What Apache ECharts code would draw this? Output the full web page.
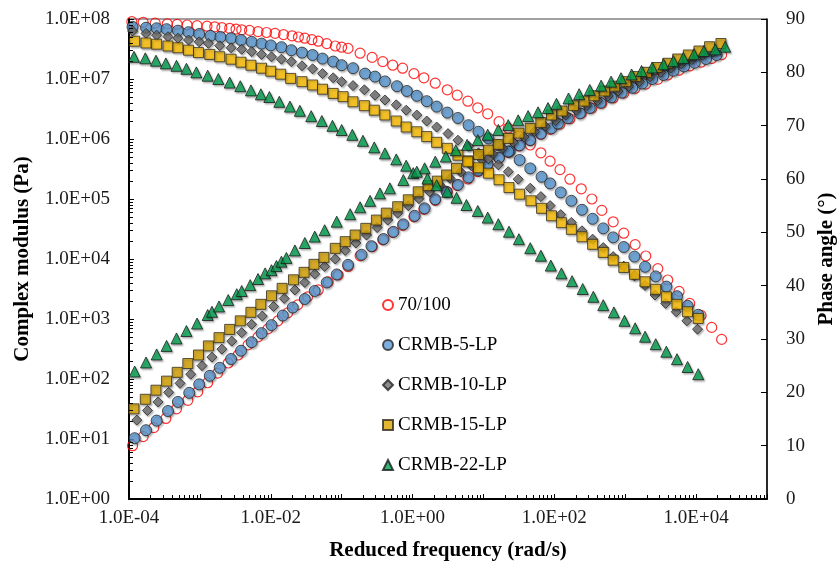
<!DOCTYPE html>
<html>
<head>
<meta charset="utf-8">
<script src="https://cdn.jsdelivr.net/npm/echarts@6/dist/echarts.min.js"></script>
<style>
html, body { margin: 0; padding: 0; background: #fff; }
#chart { width: 838px; height: 562px; }
</style>
</head>
<body>
<div id="chart"></div>
<script>
// values: frequency (rad/s) and complex modulus (Pa) kept as log10,
// phase angle in degrees
var names = ['70/100', 'CRMB-5-LP', 'CRMB-10-LP', 'CRMB-15-LP', 'CRMB-22-LP'];

var logF_70100_G = [-3.96,-3.80,-3.63,-3.46,-3.32,-3.18,-3.04,-2.90,-2.79,-2.69,-2.58,-2.49,-2.41,-2.30,-2.18,-2.06,-1.94,-1.82,-1.70,-1.61,-1.52,-1.42,-1.33,-1.21,-1.09,-1.00,-0.91,-0.74,-0.57,-0.42,-0.28,-0.14,0.02,0.16,0.32,0.49,0.63,0.78,0.92,1.06,1.22,1.35,1.50,1.66,1.81,1.94,2.08,2.22,2.38,2.53,2.67,2.83,2.98,3.14,3.29,3.46,3.60,3.76,3.91,4.07,4.22,4.36];
var logG_70100 = [7.955,7.945,7.93,7.92,7.91,7.90,7.89,7.88,7.87,7.855,7.845,7.83,7.82,7.81,7.79,7.775,7.76,7.74,7.72,7.70,7.68,7.655,7.63,7.59,7.55,7.53,7.51,7.43,7.36,7.29,7.23,7.18,7.09,7.02,6.93,6.82,6.73,6.63,6.52,6.42,6.29,6.18,6.05,5.90,5.77,5.63,5.49,5.33,5.17,5.00,4.81,4.62,4.43,4.24,4.05,3.84,3.65,3.46,3.26,3.06,2.86,2.66];
var logF_70100_P = [-3.95,-3.80,-3.65,-3.48,-3.33,-3.17,-3.03,-2.89,-2.75,-2.60,-2.46,-2.32,-2.18,-2.04,-1.90,-1.76,-1.62,-1.48,-1.33,-1.19,-1.05,-0.91,-0.74,-0.57,-0.42,-0.28,-0.14,0.02,0.16,0.32,0.49,0.63,0.78,0.92,1.06,1.22,1.35,1.50,1.66,1.81,1.94,2.08,2.22,2.38,2.53,2.67,2.83,2.98,3.14,3.29,3.46,3.60,3.76,3.91,4.07,4.22,4.36];
var phase_70100 = [10.0,11.7,13.4,15.1,16.9,18.5,20.1,21.8,23.6,25.5,27.0,28.9,30.4,31.9,33.4,34.9,36.4,37.9,39.2,40.7,42.0,43.6,45.6,47.3,48.6,50.0,51.3,52.9,54.3,56.0,57.6,58.8,60.0,61.4,62.6,63.9,65.0,66.2,67.2,68.4,69.3,70.3,71.3,72.3,73.3,74.2,75.2,76.1,77.0,77.8,78.7,79.5,80.4,81.2,81.9,82.6,83.3];

var logF_crmb5_G = [-3.95,-3.76,-3.61,-3.47,-3.31,-3.16,-3.01,-2.85,-2.71,-2.56,-2.42,-2.27,-2.13,-2.00,-1.85,-1.71,-1.56,-1.41,-1.27,-1.12,-1.00,-0.84,-0.67,-0.53,-0.39,-0.22,-0.08,0.06,0.20,0.34,0.49,0.64,0.79,0.93,1.07,1.21,1.35,1.51,1.66,1.82,1.94,2.09,2.24,2.39,2.54,2.69,2.83,2.98,3.13,3.28,3.43,3.58,3.73,3.88,4.03];
var logG_crmb5 = [7.87,7.855,7.845,7.83,7.805,7.78,7.75,7.72,7.70,7.68,7.65,7.62,7.59,7.56,7.53,7.48,7.44,7.40,7.34,7.29,7.23,7.18,7.09,7.04,6.96,6.88,6.80,6.72,6.63,6.54,6.44,6.35,6.23,6.12,6.01,5.90,5.79,5.65,5.51,5.37,5.26,5.11,4.97,4.82,4.67,4.51,4.36,4.20,4.04,3.87,3.71,3.54,3.38,3.22,3.07];
var logF_crmb5_P = [-3.92,-3.76,-3.61,-3.45,-3.31,-3.15,-3.01,-2.86,-2.72,-2.56,-2.42,-2.27,-2.13,-1.99,-1.83,-1.69,-1.52,-1.38,-1.21,-1.07,-0.91,-0.72,-0.58,-0.41,-0.27,-0.13,0.03,0.17,0.32,0.48,0.64,0.79,0.93,1.06,1.22,1.37,1.51,1.66,1.81,1.96,2.05,2.19,2.36,2.50,2.65,2.80,2.95,3.10,3.24,3.38,3.54,3.68,3.83,3.98,4.14,4.29];
var phase_crmb5 = [11.4,12.9,14.7,16.5,18.2,19.9,21.5,23.1,24.6,26.25,27.8,29.4,31.1,32.6,34.4,35.9,37.5,39.0,40.6,42.1,43.9,45.8,47.4,48.75,50.1,51.5,53.1,54.5,56.2,57.6,58.9,60.3,61.6,62.8,64.0,65.2,66.3,67.3,68.5,69.5,70.4,71.4,72.3,73.3,74.3,75.3,76.2,77.1,77.9,78.75,79.5,80.3,81.1,81.8,82.5,83.25];

var logF_crmb10_G = [-3.95,-3.76,-3.61,-3.45,-3.31,-3.16,-3.01,-2.88,-2.72,-2.56,-2.41,-2.27,-2.13,-1.99,-1.85,-1.71,-1.56,-1.41,-1.27,-1.12,-1.00,-0.84,-0.68,-0.53,-0.39,-0.23,-0.09,0.06,0.20,0.34,0.50,0.64,0.79,0.93,1.07,1.21,1.35,1.49,1.66,1.81,1.94,2.09,2.24,2.39,2.54,2.69,2.83,2.98,3.13,3.28,3.42,3.57,3.72,3.87,4.02];
var logG_crmb10 = [7.80,7.76,7.73,7.705,7.68,7.65,7.62,7.595,7.555,7.52,7.495,7.455,7.41,7.37,7.33,7.29,7.22,7.17,7.09,7.02,6.955,6.89,6.82,6.73,6.65,6.57,6.48,6.40,6.30,6.20,6.09,5.98,5.88,5.77,5.67,5.57,5.455,5.33,5.18,5.04,4.89,4.74,4.61,4.47,4.33,4.19,4.04,3.88,3.72,3.56,3.40,3.26,3.12,2.97,2.83];
var logF_crmb10_P = [-3.89,-3.74,-3.59,-3.44,-3.28,-3.13,-2.97,-2.83,-2.69,-2.55,-2.41,-2.27,-2.12,-1.96,-1.81,-1.66,-1.52,-1.38,-1.24,-1.09,-0.95,-0.80,-0.65,-0.50,-0.35,-0.21,-0.06,0.09,0.24,0.39,0.53,0.68,0.83,0.98,1.13,1.27,1.42,1.57,1.72,1.87,2.02,2.16,2.31,2.46,2.61,2.76,2.90,3.05,3.20,3.35,3.50,3.64,3.79,3.94,4.09,4.24];
var phase_crmb10 = [14.8,16.6,18.2,20.0,21.7,23.4,25.0,26.6,28.1,29.6,31.2,32.75,34.3,36.1,37.6,39.2,40.6,42.2,43.6,45.0,46.6,48.0,49.5,50.9,52.3,53.6,55.0,56.3,57.6,58.8,60.1,61.3,62.5,63.6,64.7,65.8,66.9,67.9,68.9,69.9,71.0,72.0,72.9,73.8,74.7,75.6,76.5,77.4,78.3,79.2,80.0,80.8,81.6,82.4,83.2,83.8];

var logF_crmb15_G = [-3.92,-3.76,-3.61,-3.45,-3.31,-3.16,-3.02,-2.86,-2.72,-2.56,-2.42,-2.28,-2.13,-2.00,-1.86,-1.72,-1.56,-1.41,-1.27,-1.12,-0.98,-0.84,-0.68,-0.54,-0.39,-0.23,-0.09,0.06,0.20,0.34,0.49,0.64,0.78,0.93,1.07,1.22,1.36,1.51,1.67,1.82,1.96,2.10,2.24,2.39,2.54,2.69,2.83,2.98,3.13,3.28,3.43,3.58,3.73,3.88,4.03];
var logG_crmb15 = [7.63,7.60,7.58,7.55,7.52,7.48,7.44,7.41,7.37,7.33,7.28,7.23,7.18,7.13,7.08,7.01,6.955,6.90,6.83,6.76,6.705,6.62,6.555,6.48,6.40,6.30,6.20,6.12,6.04,5.945,5.845,5.73,5.62,5.52,5.43,5.32,5.19,5.08,4.97,4.845,4.72,4.605,4.495,4.37,4.245,4.11,3.98,3.86,3.745,3.62,3.495,3.37,3.245,3.12,3.01];
var logF_crmb15_P = [-3.93,-3.77,-3.62,-3.47,-3.32,-3.17,-3.02,-2.88,-2.73,-2.58,-2.43,-2.28,-2.14,-1.99,-1.84,-1.68,-1.53,-1.39,-1.25,-1.09,-0.95,-0.81,-0.66,-0.51,-0.37,-0.21,-0.06,0.08,0.22,0.35,0.48,0.62,0.78,0.93,1.07,1.21,1.35,1.50,1.66,1.81,1.96,2.11,2.27,2.42,2.56,2.71,2.85,3.01,3.15,3.30,3.45,3.60,3.74,3.89,4.04,4.19,4.35];
var phase_crmb15 = [16.9,18.7,20.4,22.1,23.75,25.4,27.0,28.7,30.25,31.8,33.4,35.0,36.5,38.1,39.5,41.1,42.5,44.0,45.3,47.0,48.25,49.5,50.75,52.3,53.6,54.8,56.1,57.6,58.75,59.6,60.75,62.0,63.4,64.6,65.4,66.5,67.6,68.6,69.5,70.6,72.0,72.75,73.75,74.6,75.6,76.5,77.4,78.25,79.2,80.0,80.9,81.7,82.5,83.25,84.0,84.8,85.4];

var logF_crmb22_G = [-3.93,-3.77,-3.62,-3.48,-3.33,-3.19,-3.05,-2.89,-2.74,-2.58,-2.43,-2.28,-2.14,-2.02,-1.88,-1.73,-1.59,-1.43,-1.28,-1.13,-1.00,-0.85,-0.70,-0.54,-0.39,-0.23,-0.09,0.06,0.21,0.34,0.49,0.62,0.76,0.92,1.06,1.21,1.36,1.50,1.66,1.81,1.95,2.10,2.25,2.40,2.55,2.69,2.84,2.99,3.14,3.28,3.43,3.58,3.73,3.88,4.03];
var logG_crmb22 = [7.37,7.345,7.305,7.26,7.22,7.17,7.11,7.055,7.00,6.94,6.88,6.81,6.745,6.70,6.62,6.54,6.47,6.38,6.30,6.22,6.15,6.07,5.97,5.86,5.76,5.66,5.555,5.455,5.34,5.23,5.12,5.02,4.90,4.80,4.69,4.58,4.455,4.33,4.18,4.055,3.89,3.76,3.63,3.50,3.37,3.23,3.11,2.97,2.845,2.705,2.58,2.455,2.33,2.20,2.08];
var logF_crmb22_P = [-3.92,-3.76,-3.61,-3.47,-3.33,-3.19,-3.04,-2.89,-2.83,-2.73,-2.60,-2.48,-2.41,-2.29,-2.18,-2.08,-1.99,-1.92,-1.85,-1.78,-1.66,-1.52,-1.38,-1.24,-1.07,-0.88,-0.74,-0.60,-0.46,-0.32,-0.13,0.01,0.17,0.32,0.47,0.61,0.77,0.92,1.06,1.21,1.35,1.49,1.63,1.77,1.91,2.03,2.20,2.35,2.50,2.66,2.80,2.94,3.09,3.23,3.38,3.54,3.68,3.82,3.97,4.11,4.27,4.41];
var phase_crmb22 = [23.9,25.6,27.1,28.7,30.1,31.5,32.9,34.5,35.1,36.1,37.3,38.4,39.0,40.1,41.25,42.3,42.9,43.7,44.5,45.2,46.6,48.0,49.2,50.4,52.0,53.4,54.7,55.9,57.3,58.25,59.8,61.1,62.0,63.25,64.2,65.4,66.4,67.3,68.3,69.2,70.1,71.0,71.8,72.5,73.3,74.1,75.1,75.9,76.7,77.5,78.25,78.9,79.6,80.25,80.9,81.5,82.1,82.7,83.4,84.0,84.3,84.8];

var FONT = 'Liberation Serif';

function pow10Pairs(lx, ly) {
  return lx.map(function (x, i) { return [Math.pow(10, x), Math.pow(10, ly[i])]; });
}
function phasePairs(lx, ph) {
  return lx.map(function (x, i) { return [Math.pow(10, x), ph[i]]; });
}

function sciLabel(v) {
  var e = Math.round(Math.log10(v));
  var a = Math.abs(e);
  return '1.0E' + (e < 0 ? '-' : '+') + (a < 10 ? '0' : '') + a;
}

// log minor ticks (2..9 per decade)
var minorX = [], minorY = [];
for (var d = -4; d <= 4; d++) for (var m = 2; m <= 9; m++) minorX.push([m * Math.pow(10, d), 1]);
for (var d2 = 0; d2 <= 7; d2++) for (var m2 = 2; m2 <= 9; m2++) minorY.push([1e-4, m2 * Math.pow(10, d2)]);

var shadow = { shadowColor: 'rgba(0,0,0,0.35)', shadowBlur: 2, shadowOffsetX: 1.2, shadowOffsetY: 1.5 };

var styles = [
  { symbol: 'circle', size: 10, item: { color: 'rgba(255,255,255,0)', borderColor: '#FF0000', borderWidth: 1.2 } },
  { symbol: 'circle', size: 11, item: Object.assign({ color: '#5B9BD5', borderColor: '#262626', borderWidth: 1 }, shadow) },
  { symbol: 'diamond', size: 10, item: Object.assign({ color: '#6F6F6F', borderColor: '#262626', borderWidth: 1 }, shadow) },
  { symbol: 'rect', size: 10, item: Object.assign({ color: '#FFC000', borderColor: '#2f2a1a', borderWidth: 1 }, shadow) },
  { symbol: 'triangle', size: 11, item: Object.assign({ color: '#00A651', borderColor: '#1a1a1a', borderWidth: 1 }, shadow) }
];
var phaseFill = ['rgba(255,255,255,0)', '#5B9BD5', '#6F6F6F', '#D9A400', '#00A651'];

var modulus = [
  pow10Pairs(logF_70100_G, logG_70100),
  pow10Pairs(logF_crmb5_G, logG_crmb5),
  pow10Pairs(logF_crmb10_G, logG_crmb10),
  pow10Pairs(logF_crmb15_G, logG_crmb15),
  pow10Pairs(logF_crmb22_G, logG_crmb22)
];
var phase = [
  phasePairs(logF_70100_P, phase_70100),
  phasePairs(logF_crmb5_P, phase_crmb5),
  phasePairs(logF_crmb10_P, phase_crmb10),
  phasePairs(logF_crmb15_P, phase_crmb15),
  phasePairs(logF_crmb22_P, phase_crmb22)
];

var series = [];
names.forEach(function (n, i) {
  var st = styles[i];
  series.push({
    name: n, type: 'scatter', yAxisIndex: 1, symbol: st.symbol, symbolSize: st.size,
    itemStyle: Object.assign({}, st.item, { color: phaseFill[i] }),
    data: phase[i], z: 2 + i
  });
  series.push({
    name: n, type: 'scatter', yAxisIndex: 0, symbol: st.symbol, symbolSize: st.size,
    itemStyle: st.item, data: modulus[i], z: 2 + i
  });
});

series.push({
  type: 'custom', silent: true, xAxisIndex: 0, yAxisIndex: 0, z: 10,
  renderItem: function (params, api) {
    var p = api.coord([api.value(0), api.value(1)]);
    var x = Math.round(p[0]) + 0.5;
    return { type: 'line', shape: { x1: x, y1: p[1], x2: x, y2: p[1] - 4 }, style: { stroke: '#000', lineWidth: 1 } };
  },
  data: minorX
});
series.push({
  type: 'custom', silent: true, xAxisIndex: 0, yAxisIndex: 0, z: 10,
  renderItem: function (params, api) {
    var p = api.coord([api.value(0), api.value(1)]);
    var y = Math.round(p[1]) + 0.5;
    return { type: 'line', shape: { x1: p[0], y1: y, x2: p[0] + 4, y2: y }, style: { stroke: '#000', lineWidth: 1 } };
  },
  data: minorY
});

var labelStyle = { fontFamily: FONT, fontSize: 19, color: '#1a1a1a' };
var nameStyle = { fontFamily: FONT, fontSize: 21, fontWeight: 'bold', color: '#000' };

var chart = echarts.init(document.getElementById('chart'));
chart.setOption({
  animation: false,
  grid: {
    left: 129, right: 71, top: 19, bottom: 63, containLabel: false, outerBoundsMode: 'none',
    show: true, borderColor: '#404040', borderWidth: 1
  },
  legend: {
    data: names, orient: 'vertical', left: 382, top: 295, padding: 0,
    itemWidth: 10, itemHeight: 10, itemGap: 20,
    textStyle: { fontFamily: FONT, fontSize: 19, color: '#000', lineHeight: 20 }
  },
  xAxis: {
    type: 'log', logBase: 10, min: 1e-4, max: 1e5,
    name: 'Reduced frequency (rad/s)', nameLocation: 'middle', nameGap: 41, nameTextStyle: nameStyle,
    axisLine: { lineStyle: { color: '#000', width: 2 } },
    axisTick: { inside: true, length: 5, lineStyle: { color: '#000' } },
    axisLabel: Object.assign({ margin: 10, formatter: function (v) {
      var e = Math.round(Math.log10(v));
      return Math.abs(e) % 2 === 0 ? sciLabel(v) : '';
    } }, labelStyle),
    splitLine: { show: false }
  },
  yAxis: [{
    type: 'log', logBase: 10, min: 1, max: 1e8, position: 'left',
    name: 'Complex modulus (Pa)', nameLocation: 'middle', nameRotate: 90, nameGap: 96, nameTextStyle: nameStyle,
    axisLine: { show: true, lineStyle: { color: '#000', width: 2 } },
    axisTick: { inside: true, length: 5, lineStyle: { color: '#000' } },
    axisLabel: Object.assign({ margin: 19, formatter: sciLabel }, labelStyle),
    splitLine: { show: false }
  }, {
    type: 'value', min: 0, max: 90, interval: 10, position: 'right',
    name: 'Phase angle (°)', nameLocation: 'middle', nameRotate: 90, nameGap: 48, nameTextStyle: nameStyle,
    axisLine: { show: true, lineStyle: { color: '#000', width: 1.5 } },
    axisTick: { inside: true, length: 6, lineStyle: { color: '#000' } },
    axisLabel: Object.assign({ margin: 19 }, labelStyle),
    splitLine: { show: false }
  }],
  series: series
});
</script>
</body>
</html>
